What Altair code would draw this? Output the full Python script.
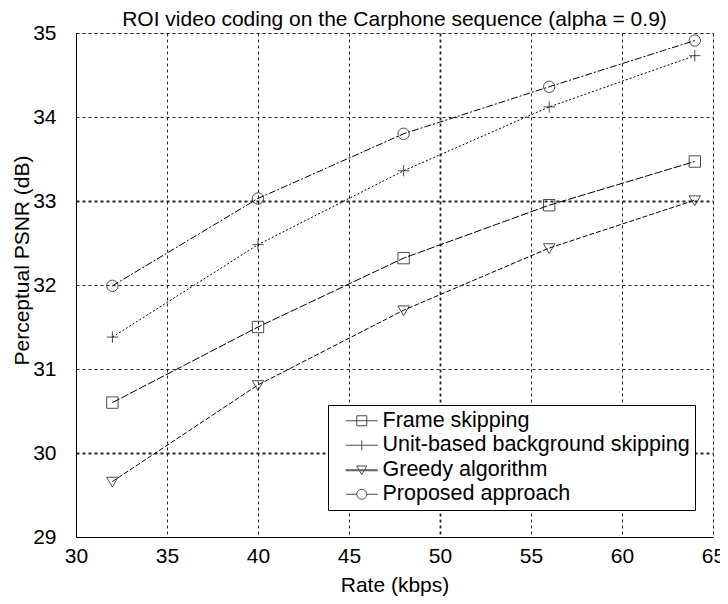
import altair as alt
import pandas as pd

rate = [32, 40, 48, 56, 64]
series_names = [
    "Frame skipping",
    "Unit-based background skipping",
    "Greedy algorithm",
    "Proposed approach",
]
frame_skipping = [30.60, 31.50, 32.32, 32.95, 33.47]
unit_based = [31.38, 32.48, 33.36, 34.12, 34.73]
greedy = [29.66, 30.81, 31.70, 32.44, 33.01]
proposed = [31.99, 33.03, 33.80, 34.36, 34.91]

x_ticks = [30, 35, 40, 45, 50, 55, 60, 65]
y_ticks = [29, 30, 31, 32, 33, 34, 35]

rows = []
for name, vals in zip(series_names, [frame_skipping, unit_based, greedy, proposed]):
    for r, v in zip(rate, vals):
        rows.append({"rate": r, "psnr": v, "series": name, "legend_series": name})
df = pd.DataFrame(rows)

FONT = "Liberation Sans"
FS = 21

marker_shapes = [
    "square",
    "M-1,0H1M0,-1V1",
    "M-1,-0.75L1,-0.75L0,0.95Z",
    "circle",
]
legend_shapes = [
    "M0.4,0H6.8M2.6,-1H4.6V1H2.6Z",
    "M0.4,0H6.8M3.6,-1V1",
    "M0.4,0H6.8M0.4,0.2H6.8M2.6,-0.75L4.6,-0.75L3.6,0.95Z",
    "M0.4,0H2.6M4.6,0H6.8M4.6,0A1,1,0,1,1,2.6,0A1,1,0,1,1,4.6,0Z",
]
dashes = [[8, 2], [2, 2], [5, 2], [7, 2, 2, 2]]

common_axis = dict(
    grid=True,
    gridColor="black",
    gridDash=[3, 3],
    gridOpacity=0.85,
    ticks=False,
    domainColor="black",
    labelColor="black",
    titleColor="black",
    labelFont=FONT,
    titleFont=FONT,
    labelFontSize=FS,
    titleFontSize=FS,
    titleFontWeight="normal",
    labelFlush=False,
    labelOverlap=False,
)

x_enc = alt.X(
    "rate:Q",
    scale=alt.Scale(domain=[30, 65], nice=False, zero=False),
    axis=alt.Axis(
        values=x_ticks,
        title="Rate (kbps)",
        labelPadding=8,
        titlePadding=8,
        gridWidth={"condition": {"test": "datum.value == 50", "value": 1.8}, "value": 1},
        **common_axis,
    ),
)
y_enc = alt.Y(
    "psnr:Q",
    scale=alt.Scale(domain=[29, 35], nice=False, zero=False),
    axis=alt.Axis(
        values=y_ticks,
        title="Perceptual PSNR (dB)",
        labelPadding=20,
        titleAngle=270,
        titleAlign="center",
        titleBaseline="middle",
        titleX=-54,
        titleY=227,
        gridWidth={
            "condition": {"test": "datum.value == 30 || datum.value == 33", "value": 2},
            "value": 1,
        },
        **common_axis,
    ),
)

base = alt.Chart(df)

lines = base.mark_line(color="black", strokeWidth=1).encode(
    x=x_enc,
    y=y_enc,
    detail="series:N",
    strokeDash=alt.StrokeDash(
        "series:N",
        scale=alt.Scale(domain=series_names, range=dashes),
        legend=None,
    ),
)

points = base.mark_point(filled=False, color="black", strokeWidth=1, size=130).encode(
    x=x_enc,
    y=y_enc,
    shape=alt.Shape(
        "series:N",
        scale=alt.Scale(domain=series_names, range=marker_shapes),
        legend=None,
    ),
)

legend_layer = (
    base.transform_filter("false")
    .mark_point(filled=False, color="black", strokeWidth=1, size=100)
    .encode(
        x=x_enc,
        y=y_enc,
        shape=alt.Shape(
            "legend_series:N",
            scale=alt.Scale(domain=series_names, range=legend_shapes),
            legend=alt.Legend(
                title=None,
                orient="none",
                legendX=252,
                legendY=372,
                strokeColor="black",
                fillColor="white",
                padding=5,
                labelFont=FONT,
                labelFontSize=21.5,
                labelColor="black",
                labelOffset=28,
                symbolSize=100,
                symbolStrokeColor="black",
                symbolStrokeWidth=1,
                rowPadding=1.5,
                labelLimit=0,
            ),
        ),
    )
)

chart = (
    alt.layer(lines, points, legend_layer)
    .resolve_scale(shape="independent")
    .properties(
        width=637,
        height=504,
        autosize=alt.AutoSizeParams(type="none"),
        padding={"left": 68, "top": 25, "right": 7, "bottom": 59},
        title=alt.TitleParams(
            "ROI video coding on the Carphone sequence (alpha = 0.9)",
            font=FONT,
            fontSize=FS,
            fontWeight="normal",
            color="black",
            anchor="middle",
            frame="group",
            baseline="alphabetic",
            offset=-25,
        ),
    )
    .configure_view(stroke="black", strokeWidth=1)
    .configure(background="white")
)

chart.save("out.html", embed_options={"renderer": "svg", "actions": False})
